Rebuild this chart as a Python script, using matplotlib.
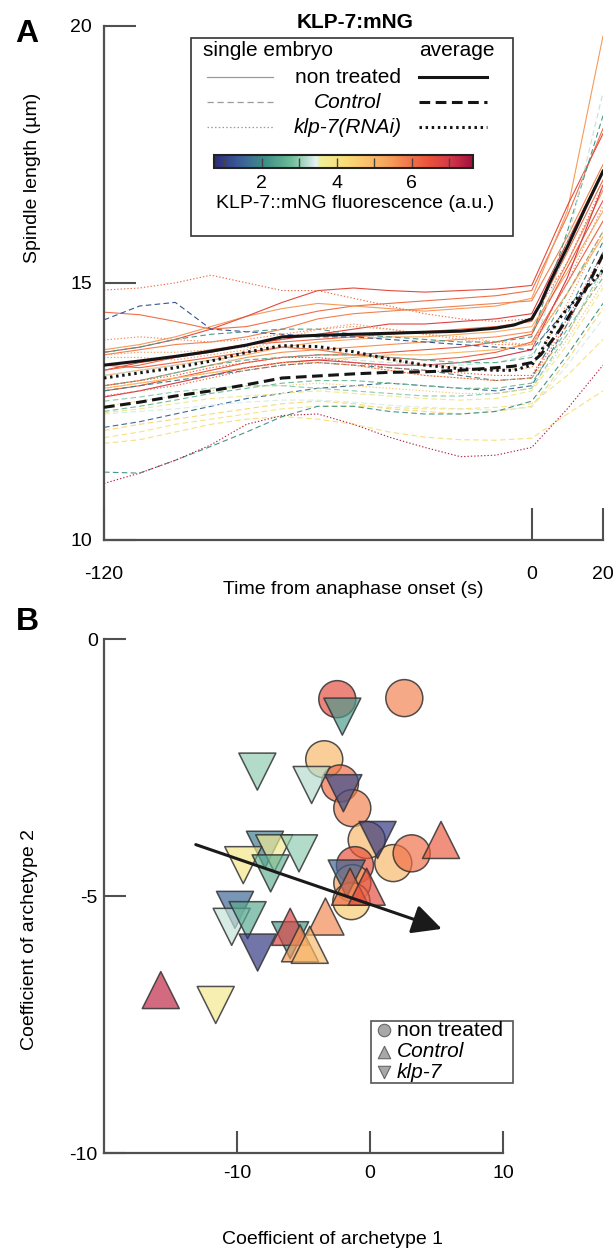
import numpy as np
import matplotlib
matplotlib.use('Agg')
import matplotlib as mpl
import matplotlib.pyplot as plt
from matplotlib.colors import LinearSegmentedColormap, Normalize
from matplotlib.patches import Rectangle

plt.rcParams['font.family'] = ['Liberation Sans', 'DejaVu Sans']
plt.rcParams['axes.unicode_minus'] = False

# ---------------- data: panel A ----------------
time_s = [-120, -110, -100, -90, -80, -70, -60, -50, -40, -30, -20, -10, 0, 10, 20]

# non treated (solid)
nt_fluo = [6.0, 5.5, 6.6, 5.8, 6.8, 6.1, 5.2, 5.6, 6.4, 6.2, 5.0, 7.0]
nt_traces = [
    [14.43, 14.38, 14.25, 14.10, 14.15, 14.30, 14.45, 14.55, 14.60, 14.65, 14.70, 14.75, 14.85, 16.30, 18.00],
    [13.70, 13.80, 13.95, 14.15, 14.35, 14.50, 14.60, 14.55, 14.50, 14.45, 14.50, 14.55, 14.70, 16.40, 19.80],
    [13.65, 13.75, 13.90, 14.10, 14.35, 14.62, 14.85, 14.90, 14.85, 14.82, 14.85, 14.88, 14.95, 16.50, 17.90],
    [13.60, 13.70, 13.80, 13.85, 13.95, 14.10, 14.30, 14.40, 14.45, 14.50, 14.55, 14.60, 14.65, 15.90, 17.30],
    [13.30, 13.45, 13.55, 13.65, 13.80, 13.90, 14.00, 14.10, 14.20, 14.20, 14.25, 14.30, 14.40, 15.80, 17.20],
    [13.30, 13.40, 13.55, 13.70, 13.80, 13.85, 13.90, 13.95, 14.00, 14.05, 14.10, 14.15, 14.25, 15.60, 17.00],
    [13.20, 13.30, 13.40, 13.50, 13.60, 13.75, 13.85, 13.90, 13.95, 13.95, 14.00, 14.05, 14.15, 15.20, 16.40],
    [13.00, 13.10, 13.25, 13.40, 13.55, 13.65, 13.70, 13.75, 13.80, 13.85, 13.90, 13.95, 14.05, 15.40, 16.80],
    [12.90, 13.00, 13.15, 13.30, 13.45, 13.55, 13.60, 13.60, 13.65, 13.70, 13.75, 13.85, 14.00, 15.30, 16.60],
    [13.40, 13.35, 13.45, 13.55, 13.65, 13.75, 13.70, 13.60, 13.55, 13.50, 13.55, 13.65, 13.85, 15.00, 16.20],
    [12.95, 13.05, 13.15, 13.25, 13.35, 13.45, 13.50, 13.55, 13.60, 13.60, 13.65, 13.70, 13.80, 14.80, 15.90],
    [12.78, 12.90, 13.05, 13.20, 13.35, 13.45, 13.50, 13.45, 13.40, 13.40, 13.45, 13.55, 13.70, 15.10, 16.90],
]

# Control (dashed)
ctrl_fluo = [1.3, 2.3, 3.3, 2.6, 1.6, 2.8, 3.8, 4.3, 3.4, 4.0, 4.1, 2.2, 1.9, 3.0]
ctrl_traces = [
    [14.28, 14.55, 14.62, 14.10, 14.05, 14.00, 13.95, 13.95, 13.90, 13.85, 13.80, 13.75, 13.70, 14.50, 15.20],
    [13.65, 13.75, 13.90, 14.00, 14.05, 14.10, 14.10, 14.00, 13.95, 13.90, 13.85, 13.85, 13.95, 16.00, 18.25],
    [13.20, 13.30, 13.40, 13.50, 13.50, 13.55, 13.55, 13.50, 13.45, 13.40, 13.40, 13.45, 13.60, 15.80, 18.70],
    [13.00, 13.10, 13.25, 13.40, 13.50, 13.55, 13.60, 13.60, 13.55, 13.50, 13.45, 13.45, 13.55, 14.80, 16.00],
    [12.19, 12.30, 12.45, 12.60, 12.75, 12.85, 12.95, 13.00, 13.05, 13.00, 12.95, 12.90, 13.00, 14.20, 15.60],
    [12.50, 12.60, 12.72, 12.85, 12.95, 13.05, 13.10, 13.10, 13.05, 13.00, 12.95, 12.95, 13.05, 14.10, 15.10],
    [12.47, 12.55, 12.65, 12.75, 12.80, 12.85, 12.90, 12.85, 12.80, 12.75, 12.72, 12.75, 12.90, 13.80, 14.90],
    [12.13, 12.25, 12.35, 12.45, 12.55, 12.65, 12.70, 12.65, 12.55, 12.50, 12.45, 12.50, 12.60, 13.50, 14.50],
    [12.45, 12.50, 12.55, 12.62, 12.68, 12.72, 12.72, 12.68, 12.62, 12.58, 12.55, 12.52, 12.58, 13.40, 14.30],
    [11.99, 12.10, 12.25, 12.35, 12.45, 12.55, 12.60, 12.60, 12.58, 12.55, 12.55, 12.58, 12.65, 13.20, 13.90],
    [11.88, 11.95, 12.10, 12.25, 12.35, 12.40, 12.35, 12.25, 12.10, 12.00, 11.95, 11.94, 11.98, 12.45, 12.90],
    [11.32, 11.30, 11.55, 11.82, 12.10, 12.40, 12.60, 12.60, 12.50, 12.45, 12.45, 12.50, 12.70, 13.60, 14.60],
    [12.90, 13.00, 13.10, 13.20, 13.30, 13.40, 13.45, 13.40, 13.35, 13.30, 13.20, 13.10, 13.15, 14.40, 15.80],
    [12.70, 12.78, 12.88, 12.95, 13.00, 13.00, 12.95, 12.90, 12.85, 12.80, 12.80, 12.85, 12.95, 14.00, 15.30],
]

# klp-7(RNAi) (dotted)
rnai_fluo = [6.1, 5.7, 5.4, 6.4, 5.0, 7.4, 6.2, 5.5, 4.6]
rnai_traces = [
    [14.86, 14.90, 15.00, 15.15, 15.00, 14.85, 14.85, 14.70, 14.55, 14.40, 14.30, 14.25, 14.30, 15.40, 16.90],
    [13.89, 13.95, 13.90, 13.85, 13.90, 14.00, 14.10, 14.15, 14.10, 14.00, 13.90, 13.80, 13.80, 15.00, 16.50],
    [13.60, 13.65, 13.65, 13.70, 13.75, 13.75, 13.70, 13.60, 13.50, 13.40, 13.35, 13.30, 13.35, 14.60, 16.00],
    [13.00, 13.10, 13.20, 13.35, 13.45, 13.55, 13.55, 13.45, 13.35, 13.30, 13.25, 13.20, 13.20, 14.30, 15.60],
    [12.95, 13.05, 13.15, 13.25, 13.35, 13.45, 13.45, 13.40, 13.30, 13.20, 13.15, 13.10, 13.15, 14.00, 15.20],
    [11.10, 11.30, 11.55, 11.85, 12.25, 12.42, 12.45, 12.25, 12.00, 11.80, 11.62, 11.65, 11.80, 12.55, 13.40],
    [12.80, 12.90, 13.00, 13.15, 13.30, 13.40, 13.45, 13.40, 13.30, 13.20, 13.15, 13.10, 13.15, 14.20, 15.50],
    [13.55, 13.55, 13.50, 13.60, 13.70, 13.90, 14.10, 14.20, 14.10, 14.00, 13.95, 13.85, 13.80, 14.80, 16.00],
    [12.60, 12.70, 12.80, 12.90, 13.00, 13.00, 13.05, 13.00, 12.95, 12.90, 12.85, 12.85, 12.95, 13.90, 15.00],
]

# averages
avg_time = [-120, -110, -100, -90, -80, -70, -60, -50, -40, -30, -20, -10, -5, 0, 2.5, 5, 7.5, 10, 15, 20]
avg_nt = [13.40, 13.48, 13.57, 13.67, 13.79, 13.95, 13.98, 14.00, 14.02, 14.04, 14.06, 14.12, 14.18, 14.30, 14.60, 15.00, 15.35, 15.70, 16.45, 17.17]
avg_ctrl = [12.58, 12.68, 12.80, 12.90, 13.02, 13.15, 13.19, 13.23, 13.26, 13.27, 13.30, 13.35, 13.38, 13.45, 13.60, 13.82, 14.05, 14.30, 14.85, 15.55]
avg_rnai = [13.15, 13.25, 13.35, 13.48, 13.65, 13.78, 13.76, 13.66, 13.52, 13.40, 13.33, 13.30, 13.30, 13.40, 13.65, 13.98, 14.28, 14.50, 14.88, 15.25]

# ---------------- data: panel B ----------------
nt_a1 = [-2.46, 2.58, -3.44, -2.26, -1.33, -0.25, 1.75, 3.13, -1.13, -1.33, -1.40]
nt_a2 = [-1.17, -1.15, -2.34, -2.81, -3.29, -3.91, -4.36, -4.17, -4.40, -4.75, -5.10]
nt_c = [6.6, 5.8, 5.0, 6.1, 5.8, 5.0, 5.0, 6.0, 6.5, 5.4, 4.6]

ctrl_a1 = [5.34, -1.50, -0.25, -3.35, -6.00, -5.26, -4.53, -15.73]
ctrl_a2 = [-3.91, -4.82, -4.82, -5.40, -5.60, -5.92, -5.95, -6.83]
ctrl_c = [6.3, 6.1, 6.6, 5.7, 6.8, 5.5, 4.9, 7.3]

klp_a1 = [-2.08, -8.47, -4.39, -2.00, 0.57, -7.90, -7.20, -5.34, -9.53, -7.47, -1.75, -10.15, -10.40, -9.20, -8.45, -6.00, -11.60]
klp_a2 = [-1.51, -2.58, -2.84, -3.00, -3.91, -4.10, -4.17, -4.17, -4.40, -4.56, -4.66, -5.27, -5.60, -5.47, -6.10, -5.86, -7.12]
klp_c = [2.3, 3.0, 3.2, 1.2, 0.9, 1.8, 3.7, 3.0, 3.9, 2.6, 1.5, 1.5, 3.3, 2.5, 0.9, 2.2, 3.8]

arrow_start = (-13.1, -4.0)
arrow_end = (5.4, -5.64)

# ---------------- style ----------------
W, H = 614, 1252
fig = plt.figure(figsize=(W / 100, H / 100), dpi=100)


def rect(l, t, r, b):
    return [l / W, 1 - b / H, (r - l) / W, (b - t) / H]


cmap = LinearSegmentedColormap.from_list(
    'klp', list(zip(
        [0.0, 0.1, 0.2, 0.3, 0.36, 0.395, 0.405, 0.5, 0.617, 0.69, 0.762, 0.835, 0.907, 1.0],
        ['#2d2a78', '#3b5f98', '#3f9187', '#6fbd98', '#b9ddd0', '#e6f2f4', '#eeee9a',
         '#f9de78', '#f9b868', '#f59a5a', '#f07048', '#e8503a', '#d63a48', '#a3103e'])))
norm = Normalize(vmin=0.74, vmax=7.64)
axis_col = '#505050'

# ---------------- panel A ----------------
axA = fig.add_axes(rect(104, 25.7, 603, 540))
for tr, c in zip(nt_traces, nt_fluo):
    axA.plot(time_s, tr, color=cmap(norm(c)), lw=0.8, ls='-', zorder=1)
for tr, c in zip(ctrl_traces, ctrl_fluo):
    axA.plot(time_s, tr, color=cmap(norm(c)), lw=0.8, ls=(0, (5, 3)), zorder=1)
for tr, c in zip(rnai_traces, rnai_fluo):
    axA.plot(time_s, tr, color=cmap(norm(c)), lw=0.8, ls=(0, (1.2, 1.8)), zorder=1)
axA.plot(avg_time, avg_nt, color='#151515', lw=2.2, ls='-', zorder=3)
axA.plot(avg_time, avg_ctrl, color='#151515', lw=2.2, ls=(0, (3.5, 1.8)), zorder=3)
axA.plot(avg_time, avg_rnai, color='#151515', lw=2.2, ls=(0, (0.8, 1.2)), zorder=3)

axA.set_xlim(-120, 20)
axA.set_ylim(10, 20)
axA.set_xticks([-120, 0, 20])
axA.set_yticks([10, 15, 20])
for s in ('top', 'right'):
    axA.spines[s].set_visible(False)
for s in ('left', 'bottom'):
    axA.spines[s].set_color(axis_col)
    axA.spines[s].set_linewidth(1.6)
axA.tick_params(direction='in', length=23, width=1.5, color=axis_col, labelsize=14)
axA.tick_params(axis='x', pad=18.5)
axA.tick_params(axis='y', pad=8.5)

# ---------------- panel B ----------------
axB = fig.add_axes(rect(104, 639, 503, 1153))


def rgba(vals, a):
    cols = cmap(norm(np.array(vals)))
    cols[:, 3] = a
    return cols


edge = (0.2, 0.2, 0.2, 0.85)
S = 710
AL = 0.68
axB.scatter(nt_a1, nt_a2, s=S, marker='o', c=rgba(nt_c, AL), edgecolors=[edge], linewidths=1.1, zorder=2)
axB.scatter(klp_a1, klp_a2, s=S, marker='v', c=rgba(klp_c, AL), edgecolors=[edge], linewidths=1.1, zorder=3)
axB.scatter(ctrl_a1, ctrl_a2, s=S, marker='^', c=rgba(ctrl_c, AL), edgecolors=[edge], linewidths=1.1, zorder=4)
axB.annotate('', xy=arrow_end, xytext=arrow_start,
             arrowprops=dict(arrowstyle='-|>,head_length=1.0,head_width=0.5', lw=2.2,
                             color='#1a1a1a', shrinkA=0, shrinkB=0, mutation_scale=18),
             zorder=6)

axB.set_xlim(-20, 10)
axB.set_ylim(-10, 0)
axB.set_xticks([-10, 0, 10])
axB.set_yticks([-10, -5, 0])
for s in ('top', 'right'):
    axB.spines[s].set_visible(False)
for s in ('left', 'bottom'):
    axB.spines[s].set_color(axis_col)
    axB.spines[s].set_linewidth(1.6)
axB.tick_params(direction='in', length=16, width=1.5, color=axis_col, labelsize=14)
axB.tick_params(axis='x', pad=8.5)
axB.tick_params(axis='y', pad=4.5)

# ---------------- overlay (pixel coordinates) ----------------
ov = fig.add_axes([0, 0, 1, 1])
ov.set_xlim(0, W)
ov.set_ylim(H, 0)
ov.axis('off')
ov.patch.set_alpha(0)

ov.text(27, 34, 'A', fontsize=23, fontweight='bold', ha='center', va='center')
ov.text(27, 622, 'B', fontsize=23, fontweight='bold', ha='center', va='center')
ov.text(353.5, 590, 'Time from anaphase onset (s)', fontsize=14, ha='center', va='center')
ov.text(33, 178, 'Spindle length (\u00b5m)', fontsize=14, ha='center', va='center', rotation=90)
ov.text(332, 1240, 'Coefficient of archetype 1', fontsize=14, ha='center', va='center')
ov.text(30, 940, 'Coefficient of archetype 2', fontsize=14, ha='center', va='center', rotation=90)
ov.text(355, 23, 'KLP-7:mNG', fontsize=15, fontweight='bold', ha='center', va='center')

# legend A
ov.add_patch(Rectangle((191, 37.5), 322, 198.5, facecolor='white', edgecolor='#333333', lw=1.2, zorder=5))
ov.text(203, 51, 'single embryo', fontsize=15, ha='left', va='center', zorder=6)
ov.text(495, 51, 'average', fontsize=15, ha='right', va='center', zorder=6)
rows = [77.3, 102.3, 127.3]
names = ['non treated', 'Control', 'klp-7(RNAi)']
styles_thin = ['-', (0, (5, 3)), (0, (1.2, 1.8))]
styles_thick = ['-', (0, (3.5, 1.8)), (0, (0.8, 1.2))]
for y, nm, st1, st2 in zip(rows, names, styles_thin, styles_thick):
    ov.plot([207, 273], [y, y], color='#9a9a9a', lw=0.9, ls=st1, zorder=6)
    ov.plot([419, 487], [y, y], color='#151515', lw=2.2, ls=st2, zorder=6)
    ov.text(348, y, nm, fontsize=15, ha='center', va='center',
            style='normal' if nm == 'non treated' else 'italic', zorder=6)
ov.text(355, 203, 'KLP-7::mNG fluorescence (a.u.)', fontsize=14, ha='center', va='center', zorder=6)

# legend B
ov.add_patch(Rectangle((370.6, 1020.7), 142, 62, facecolor='white', edgecolor='#555555', lw=1.2, zorder=5))
for y, mk, nm, it in zip([1030, 1051.5, 1072], ['o', '^', 'v'],
                         ['non treated', 'Control', 'klp-7'], [False, True, True]):
    ov.scatter([383.5], [y], s=80, marker=mk, c='#a8a8a8', edgecolors='#666666', linewidths=0.8, zorder=6)
    ov.text(397, y, nm, fontsize=15, ha='left', va='center', style='italic' if it else 'normal', zorder=6)

# colorbar
cax = fig.add_axes(rect(214.3, 155, 473.3, 167.7))
sm = mpl.cm.ScalarMappable(norm=norm, cmap=cmap)
cb = fig.colorbar(sm, cax=cax, orientation='horizontal')
cb.set_ticks([1, 2, 3, 4, 5, 6, 7])
cb.set_ticklabels(['', '2', '', '4', '', '6', ''])
cb.outline.set_linewidth(1.5)
cb.outline.set_edgecolor('#222222')
cax.tick_params(direction='in', length=7, width=1.0, color='#444444', labelsize=14, pad=5)

fig.savefig('out.png', dpi=100)
